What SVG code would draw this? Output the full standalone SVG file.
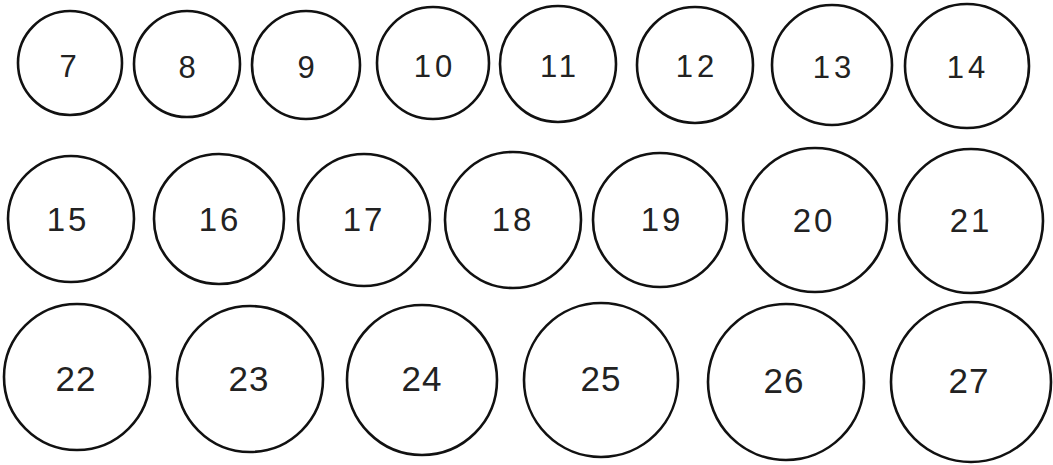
<svg xmlns="http://www.w3.org/2000/svg" width="1053" height="465" viewBox="0 0 1053 465">
<style>
.n circle{fill:#fff;stroke:#111;stroke-width:2.6}
.n text{font-family:"Liberation Sans","DejaVu Sans",sans-serif;fill:#222;text-anchor:middle;dominant-baseline:central}
.r1 text{font-size:31px;letter-spacing:4px}
.r2 text{font-size:33px;letter-spacing:3px}
.r3 text{font-size:35px;letter-spacing:1px}
</style>
<rect width="1053" height="465" fill="#fff"/>
<g id="connectors"/>
<g class="r1">
<g id="n7" class="n"><circle cx="70" cy="63" r="52"/><text x="70" y="66">7</text></g>
<g id="n8" class="n"><circle cx="187" cy="64" r="53"/><text x="189" y="67">8</text></g>
<g id="n9" class="n"><circle cx="306" cy="65" r="54"/><text x="308" y="67">9</text></g>
<g id="n10" class="n"><circle cx="433" cy="63" r="56"/><text x="435" y="66">10</text></g>
<g id="n11" class="n"><circle cx="558" cy="64" r="58"/><text x="560" y="66">11</text></g>
<g id="n12" class="n"><circle cx="695" cy="65" r="58"/><text x="697" y="66">12</text></g>
<g id="n13" class="n"><circle cx="832" cy="65" r="60"/><text x="834" y="67">13</text></g>
<g id="n14" class="n"><circle cx="967" cy="66" r="62"/><text x="968" y="67">14</text></g>
</g>
<g class="r2">
<g id="n15" class="n"><circle cx="71" cy="219" r="63"/><text x="68" y="219">15</text></g>
<g id="n16" class="n"><circle cx="219" cy="219" r="65"/><text x="220" y="219">16</text></g>
<g id="n17" class="n"><circle cx="364" cy="220" r="66"/><text x="364" y="219">17</text></g>
<g id="n18" class="n"><circle cx="513" cy="220" r="68"/><text x="513" y="219">18</text></g>
<g id="n19" class="n"><circle cx="660" cy="220" r="67"/><text x="662" y="219">19</text></g>
<g id="n20" class="n"><circle cx="815" cy="220" r="72"/><text x="814" y="220">20</text></g>
<g id="n21" class="n"><circle cx="971" cy="221" r="72"/><text x="971" y="220">21</text></g>
</g>
<g class="r3">
<g id="n22" class="n"><circle cx="77" cy="377" r="73"/><text x="76" y="378">22</text></g>
<g id="n23" class="n"><circle cx="250" cy="379" r="73"/><text x="249" y="378">23</text></g>
<g id="n24" class="n"><circle cx="422" cy="380" r="75"/><text x="422" y="378">24</text></g>
<g id="n25" class="n"><circle cx="601" cy="380" r="77"/><text x="601" y="378">25</text></g>
<g id="n26" class="n"><circle cx="786" cy="382" r="78"/><text x="784" y="380">26</text></g>
<g id="n27" class="n"><circle cx="971" cy="382" r="80"/><text x="969" y="380">27</text></g>
</g>
</svg>
